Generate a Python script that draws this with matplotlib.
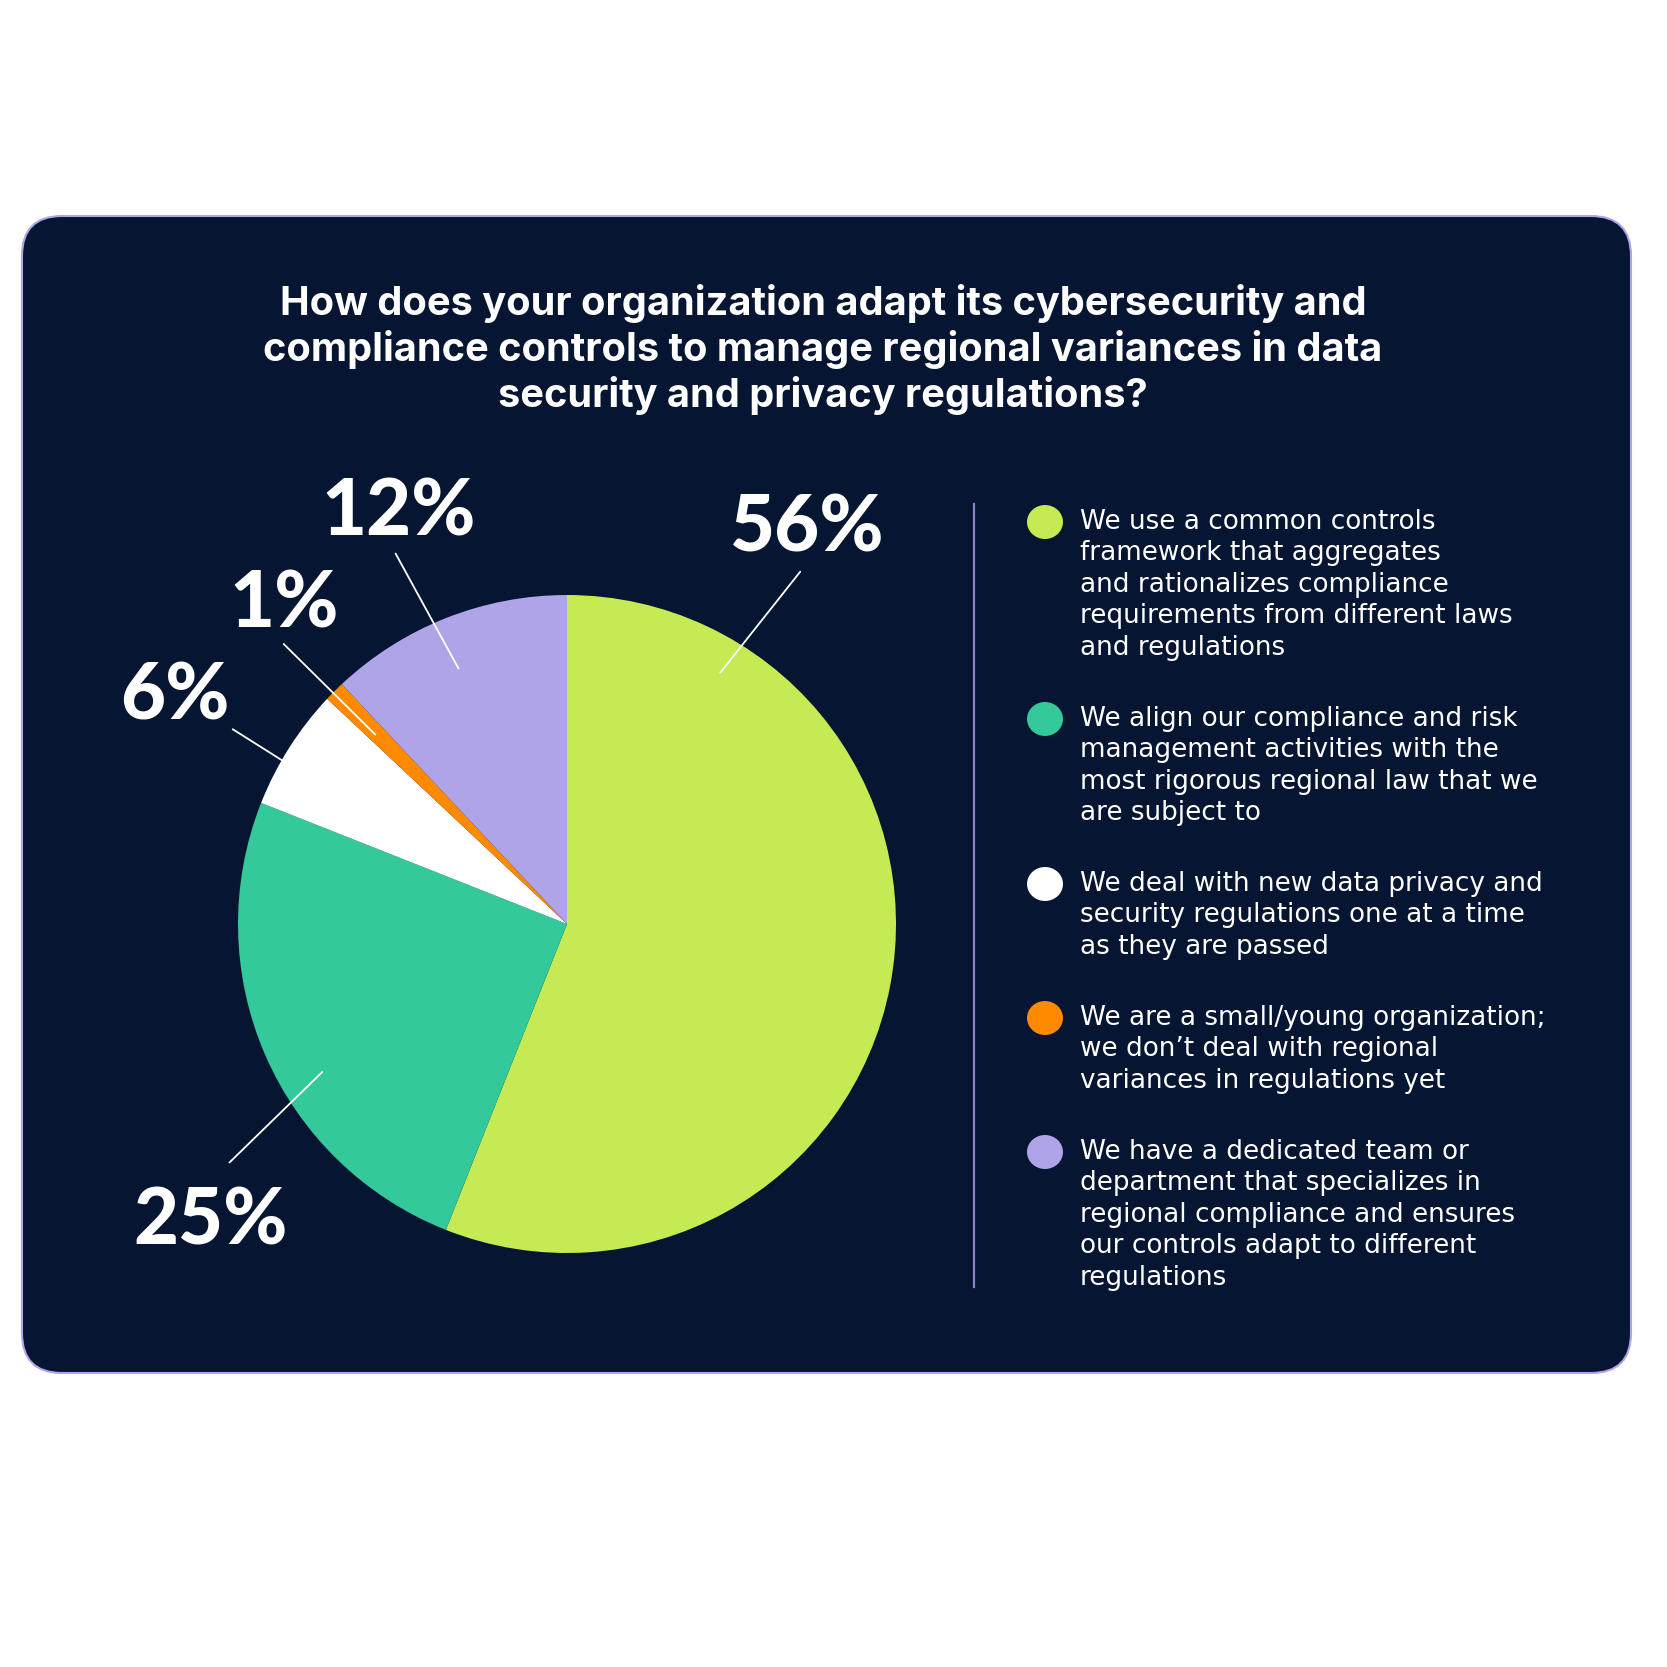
import matplotlib.pyplot as plt
from matplotlib.patches import FancyBboxPatch, Ellipse

# data
values = [56, 25, 6, 1, 12]
labels = ['56%', '25%', '6%', '1%', '12%']
colors = ['#C5EA53', '#34C99A', '#FFFFFF', '#FF8A00', '#B0A4E8']
legend_texts = [
    "We use a common controls\nframework that aggregates\nand rationalizes compliance\nrequirements from different laws\nand regulations",
    "We align our compliance and risk\nmanagement activities with the\nmost rigorous regional law that we\nare subject to",
    "We deal with new data privacy and\nsecurity regulations one at a time\nas they are passed",
    "We are a small/young organization;\nwe don\u2019t deal with regional\nvariances in regulations yet",
    "We have a dedicated team or\ndepartment that specializes in\nregional compliance and ensures\nour controls adapt to different\nregulations",
]
title = ("How does your organization adapt its cybersecurity and\n"
         "compliance controls to manage regional variances in data\n"
         "security and privacy regulations?")

# label text and leader line positions, in pie radius units
label_pos = [(0.728, 1.201), (-1.084, -0.906), (-1.191, 0.689), (-0.861, 0.971), (-0.511, 1.249)]
leader_in = [(0.466, 0.764), (-0.744, -0.450), (-0.867, 0.498), (-0.583, 0.576), (-0.330, 0.777)]
leader_out = [(0.709, 1.071), (-1.026, -0.725), (-1.016, 0.592), (-0.861, 0.851), (-0.521, 1.126)]

W = 1667
navy = '#061531'
lav = '#B0A4E8'

fig = plt.figure(figsize=(16.67, 16.67), dpi=100, facecolor='white')
ax = fig.add_axes([0, 0, 1, 1])


def Y(y):
    # convert top-down pixel position to axis coordinate
    return W - y


# card
card = FancyBboxPatch((22, Y(1373)), 1631 - 22, 1373 - 216,
                      boxstyle='round,pad=0,rounding_size=40',
                      facecolor=navy, edgecolor=lav, linewidth=1.5)
ax.add_patch(card)

# title
for i, line in enumerate(title.split('\n')):
    ax.text(823, Y(303 + i * 46), line, ha='center', va='center',
            color='white', fontsize=28.6, fontweight='bold', family='Inter')

# pie
cx, cy, R = 567, Y(924), 329
ax.pie(values, colors=colors, startangle=90, counterclock=False,
       center=(cx, cy), radius=R, frame=True,
       wedgeprops=dict(linewidth=0))

for lab, (tx, ty), (ix, iy), (ox, oy) in zip(labels, label_pos, leader_in, leader_out):
    ax.plot([cx + ix * R, cx + ox * R], [cy + iy * R, cy + oy * R],
            color='white', lw=1.3, solid_capstyle='round')
    ax.text(cx + tx * R, cy + ty * R, lab, ha='center', va='center',
            color='white', fontsize=56, fontweight='black', family='Lato')

# divider
ax.plot([974, 974], [Y(504), Y(1287)], color='#8A84C4', lw=1.6)

# legend
item_y = [522, 719, 884, 1018, 1152]
for col, txt, yy in zip(colors, legend_texts, item_y):
    ax.add_patch(Ellipse((1045, Y(yy)), 36, 34, facecolor=col, edgecolor='none'))
    for j, line in enumerate(txt.split('\n')):
        ax.text(1080, Y(yy + j * 31.4), line, ha='left', va='center',
                color='white', fontsize=18.9, family='DejaVu Sans')

ax.set_xlim(0, W)
ax.set_ylim(0, W)
ax.set_aspect('equal')
ax.axis('off')

fig.savefig('out.png', dpi=100, facecolor='white')
